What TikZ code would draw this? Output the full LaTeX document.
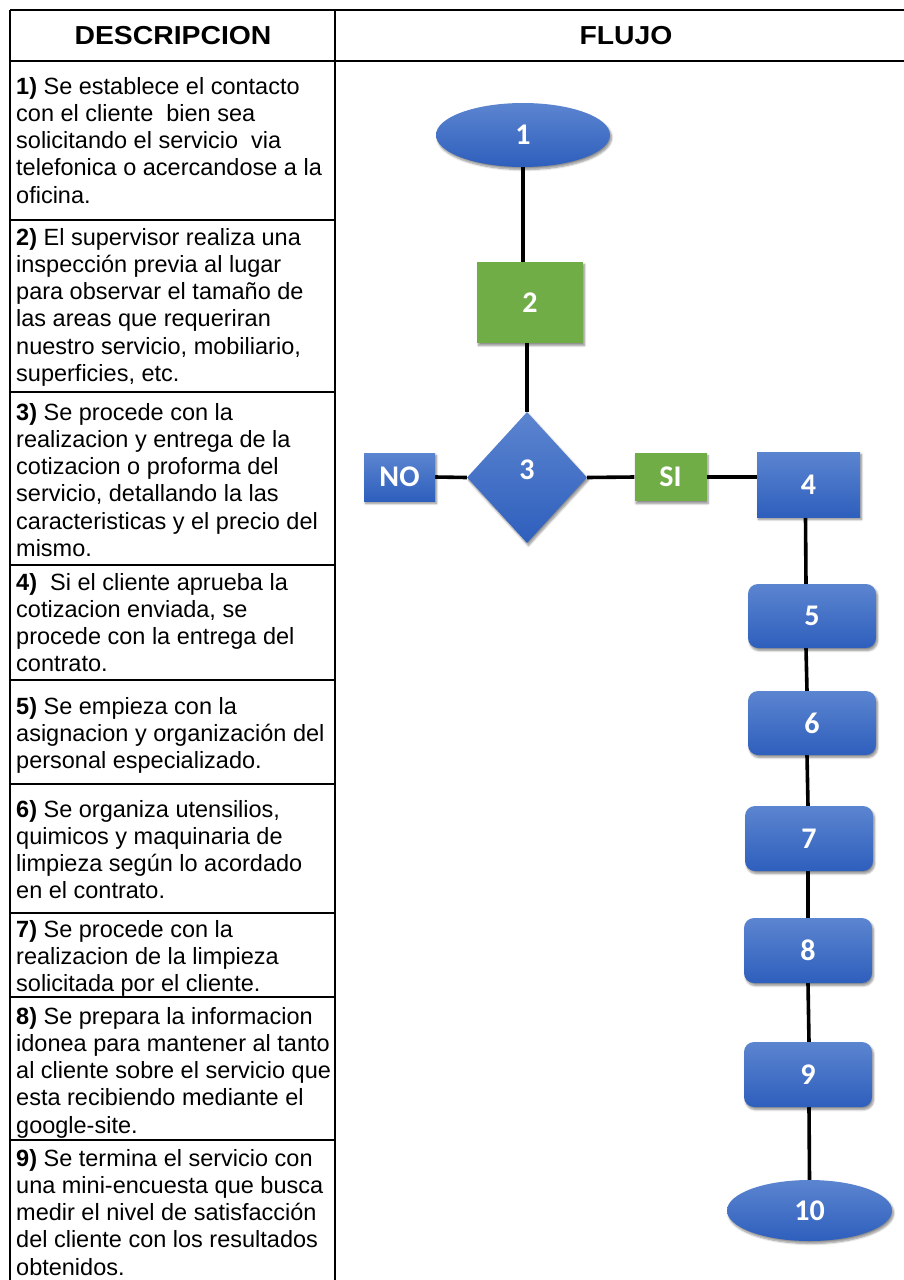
\documentclass[tikz,border=0pt]{standalone}
\usepackage{fontspec}
\setmainfont{Liberation Sans}
\newfontfamily\hdrfont[FakeStretch=1.09]{Liberation Sans}
\newfontfamily\shpfont{Carlito}
\usetikzlibrary{shapes.geometric,shadows.blur,backgrounds}
\definecolor{blueTop}{RGB}{92,133,208}
\definecolor{blueBot}{RGB}{46,95,189}
\definecolor{greenFill}{RGB}{112,173,71}
\begin{document}
\begin{tikzpicture}[x=1pt,y=-1pt,
  tline/.style={line width=1.6pt, black},
  tthick/.style={line width=2.6pt, black},
  desc/.style={anchor=north west, inner sep=0pt, align=left, font=\fontsize{23.5}{27.2}\selectfont},
  hdr/.style={inner sep=0pt, font=\hdrfont\bfseries\fontsize{26}{30}\selectfont},
  conn/.style={line width=3.6pt, black},
  shad/.style={blur shadow={shadow xshift=1.5pt, shadow yshift=-2.5pt, shadow blur steps=6, shadow opacity=45}},
  bluefill/.style={top color=blueTop, bottom color=blueBot, draw=none, shad},
  greenfill/.style={fill=greenFill, draw=none, shad},
  shplbl/.style={text=white, font=\shpfont\bfseries\fontsize{30}{34}\selectfont},
  sq/.style={rectangle, inner sep=0pt, shplbl},
  rbox/.style={rectangle, rounded corners=10pt, inner sep=0pt, bluefill, shplbl, minimum width=128pt, minimum height=64pt},
  ell/.style={ellipse, inner sep=0pt, bluefill, shplbl}
]
\useasboundingbox (0,0) rectangle (904,1280);

% table
\draw[tline] (10,10) -- (904,10);
\draw[tthick] (10,61) -- (904,61);
\draw[tline] (10,10) -- (10,1280);
\draw[tthick] (335,10) -- (335,1280);
\foreach \yy in {220,392,565,680,784,913,997,1140}
  \draw[tline] (10,\yy) -- (335,\yy);

\node[hdr] (hd) at (173,36) {DESCRIPCION};
\node[hdr] (hf) at (626,36) {FLUJO};

\node[desc] (t1) at (16,77) {\textbf{1)} Se establece el contacto\\con el cliente~ bien sea\\solicitando el servicio~ via\\telefonica o acercandose a la\\oficina.};
\node[desc] (t2) at (16,228) {\textbf{2)} El supervisor realiza una\\inspección previa al lugar\\para observar el tamaño de\\las areas que requeriran\\nuestro servicio, mobiliario,\\superficies, etc.};
\node[desc] (t3) at (16,403) {\textbf{3)} Se procede con la\\realizacion y entrega de la\\cotizacion o proforma del\\servicio, detallando la las\\caracteristicas y el precio del\\mismo.};
\node[desc] (t4) at (16,573) {\textbf{4)}~ Si el cliente aprueba la\\cotizacion enviada, se\\procede con la entrega del\\contrato.};
\node[desc] (t5) at (16,697) {\textbf{5)} Se empieza con la\\asignacion y organización del\\personal especializado.};
\node[desc] (t6) at (16,800) {\textbf{6)} Se organiza utensilios,\\quimicos y maquinaria de\\limpieza según lo acordado\\en el contrato.};
\node[desc] (t7) at (16,920) {\textbf{7)} Se procede con la\\realizacion de la limpieza\\solicitada por el cliente.};
\node[desc] (t8) at (16,1007) {\textbf{8)} Se prepara la informacion\\idonea para mantener al tanto\\al cliente sobre el servicio que\\esta recibiendo mediante el\\google-site.};
\node[desc] (t9) at (16,1149) {\textbf{9)} Se termina el servicio con\\una mini-encuesta que busca\\medir el nivel de satisfacción\\del cliente con los resultados\\obtenidos.};

% flow
\node[ell, minimum width=174pt, minimum height=64pt] (e1) at (523,135) {1};
\node[sq, greenfill, minimum width=106pt, minimum height=81pt] (r2) at (530,302.5) {2};
\node[diamond, inner sep=0pt, bluefill, minimum width=120pt, minimum height=131pt,
      label={[shplbl, yshift=8pt]center:3}] (d3) at (527,477.5) {};
\node[sq, bluefill, minimum width=71pt, minimum height=48pt] (no) at (399.5,477) {NO};
\node[sq, greenfill, minimum width=72pt, minimum height=48pt] (si) at (670.5,477) {SI};
\node[sq, bluefill, minimum width=103pt, minimum height=65pt] (b4) at (808.5,484.5) {4};
\node[rbox] (b5) at (812,616) {5};
\node[rbox] (b6) at (812,723) {6};
\node[rbox, minimum height=65pt] (b7) at (809,838.5) {7};
\node[rbox, minimum height=65pt] (b8) at (808,950.5) {8};
\node[rbox, minimum height=65pt] (b9) at (808,1074.5) {9};
\node[ell, minimum width=165pt, minimum height=61pt] (e10) at (809.5,1210.5) {10};

\begin{scope}[on background layer]
\draw[conn] (e1.south) -- (e1.south |- r2.north);
\draw[conn] (r2.south -| d3.north) -- (d3.north);
\draw[conn] (no.east) -- (d3.west);
\draw[conn] (d3.east) -- (si.west);
\draw[conn] (si.east) -- (si.east -| b4.west);
\draw[conn] ([xshift=-3pt]b4.south) -- ([xshift=-6pt]b5.north);
\draw[conn] ([xshift=-6pt]b5.south) -- ([xshift=-5pt]b6.north);
\draw[conn] ([xshift=-5pt]b6.south) -- ([xshift=-1pt]b7.north);
\draw[conn] ([xshift=-1pt]b7.south) -- (b8.north);
\draw[conn] (b8.south) -- ([xshift=1pt]b9.north);
\draw[conn] ([xshift=1pt]b9.south) -- (e10.north);
\end{scope}
\end{tikzpicture}
\end{document}
